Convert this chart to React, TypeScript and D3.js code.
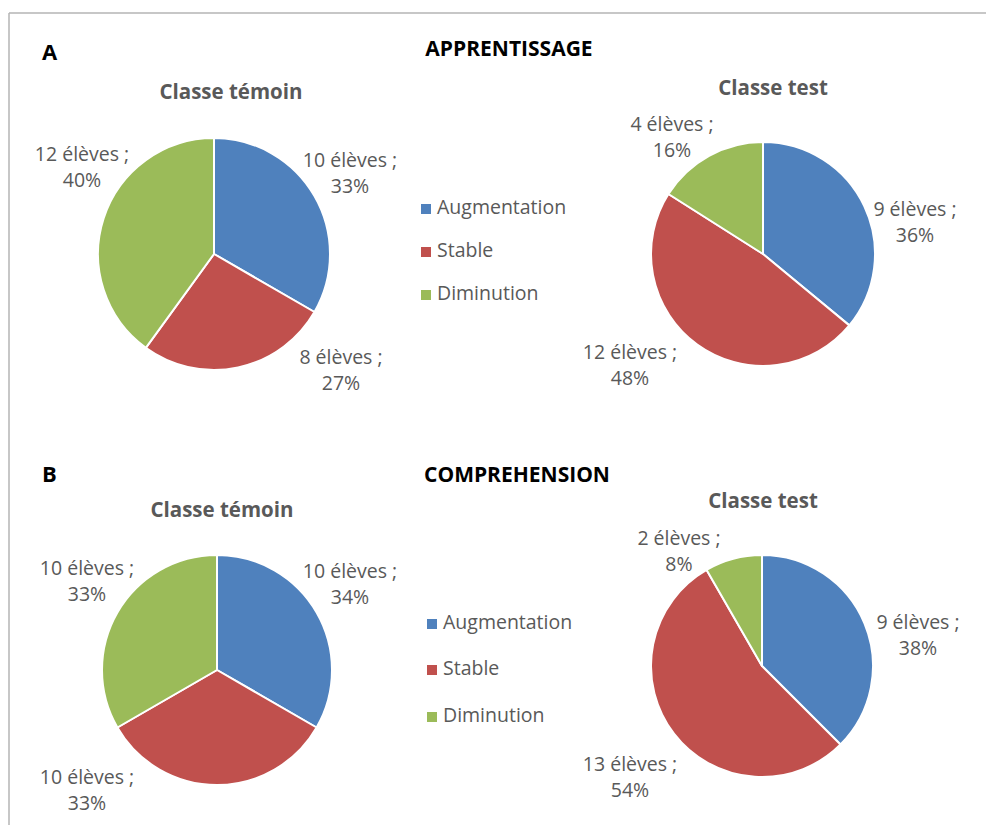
import * as d3 from 'd3'

const categories = ['Augmentation', 'Stable', 'Diminution']
const colors = ['#4F81BD', '#C0504D', '#9BBB59']

// nombre d'élèves par catégorie
const appTemoin = [10, 8, 12]
const appTest = [9, 12, 4]
const compTemoin = [10, 10, 10]
const compTest = [9, 13, 2]

// pourcentages tels qu'affichés
const appTemoinPct = ['33%', '27%', '40%']
const appTestPct = ['36%', '48%', '16%']
const compTemoinPct = ['34%', '33%', '33%']
const compTestPct = ['38%', '54%', '8%']

type PieSpec = {
  title: string
  values: number[]
  pct: string[]
  cx: number
  cy: number
  r: number
  titleX: number
  titleY: number
  labelOffsets: [number, number][]
}

const pies: PieSpec[] = [
  {
    title: 'Classe témoin', values: appTemoin, pct: appTemoinPct,
    cx: 214, cy: 254, r: 116, titleX: 231, titleY: 94,
    labelOffsets: [[136, -92], [127, 105], [-132, -98]]
  },
  {
    title: 'Classe test', values: appTest, pct: appTestPct,
    cx: 763, cy: 254, r: 112, titleX: 773, titleY: 90,
    labelOffsets: [[152, -43], [-133, 100], [-91, -128]]
  },
  {
    title: 'Classe témoin', values: compTemoin, pct: compTemoinPct,
    cx: 217, cy: 670, r: 115, titleX: 222, titleY: 512,
    labelOffsets: [[133, -97], [-130, 109], [-130, -100]]
  },
  {
    title: 'Classe test', values: compTest, pct: compTestPct,
    cx: 762, cy: 666, r: 111, titleX: 763, titleY: 503,
    labelOffsets: [[156, -42], [-132, 100], [-83, -126]]
  }
]

const legends = [
  { x: 426, y: [209, 252, 295] },
  { x: 432, y: [624, 670, 717] }
]

const font = '"Open Sans", "Noto Sans", sans-serif'
const gray = '#595959'

function Pie({ spec }: { spec: PieSpec }) {
  const pie = d3.pie<number>().sort(null).value(d => d)
  const arcs = pie(spec.values)
  const arc = d3.arc<d3.PieArcDatum<number>>().innerRadius(0).outerRadius(spec.r)
  return (
    <g>
      <text x={spec.titleX} y={spec.titleY} textAnchor="middle" dominantBaseline="middle"
        fontFamily={font} fontWeight="bold" fontSize={20.5} fill={gray}>{spec.title}</text>
      <g transform={`translate(${spec.cx},${spec.cy})`}>
        {arcs.map((a, i) => (
          <path key={i} d={arc(a) ?? ''} fill={colors[i]} stroke="#fff" strokeWidth={2} strokeLinejoin="round" />
        ))}
        {arcs.map((a, i) => {
          const [dx, dy] = spec.labelOffsets[i]
          return (
            <text key={'l' + i} textAnchor="middle" fontFamily={font} fontSize={19.5} fill={gray}>
              <tspan x={dx} y={dy} dominantBaseline="middle">{`${a.data} élèves ;`}</tspan>
              <tspan x={dx} y={dy + 26} dominantBaseline="middle">{spec.pct[i]}</tspan>
            </text>
          )
        })}
      </g>
    </g>
  )
}

export default function App() {
  return (
    <svg width={986} height={825} style={{ position: 'absolute', left: 0, top: 0, background: '#fff' }}>
      <rect width={986} height={825} fill="#fff" />
      <line x1={9} y1={13} x2={986} y2={13} stroke="#b5b5b5" strokeWidth={1.5} />
      <line x1={9} y1={13} x2={9} y2={825} stroke="#b5b5b5" strokeWidth={1.5} />

      <text x={42} y={54} fontFamily={font} fontWeight="bold" fontSize={22} fill="#000" dominantBaseline="middle">A</text>
      <text x={509} y={50} textAnchor="middle" fontFamily={font} fontWeight="bold" fontSize={21} fill="#000" dominantBaseline="middle">APPRENTISSAGE</text>
      <text x={42} y={476} fontFamily={font} fontWeight="bold" fontSize={22} fill="#000" dominantBaseline="middle">B</text>
      <text x={517} y={476} textAnchor="middle" fontFamily={font} fontWeight="bold" fontSize={21} fill="#000" dominantBaseline="middle">COMPREHENSION</text>

      {pies.map((p, i) => <Pie key={i} spec={p} />)}

      {legends.map((lg, li) => (
        <g key={li}>
          {categories.map((c, i) => (
            <g key={c}>
              <rect x={lg.x - 5} y={lg.y[i] - 5} width={10} height={10} fill={colors[i]} />
              <text x={lg.x + 11} y={lg.y[i]} dominantBaseline="middle" fontFamily={font} fontSize={19.5} fill={gray}>{c}</text>
            </g>
          ))}
        </g>
      ))}
    </svg>
  )
}
